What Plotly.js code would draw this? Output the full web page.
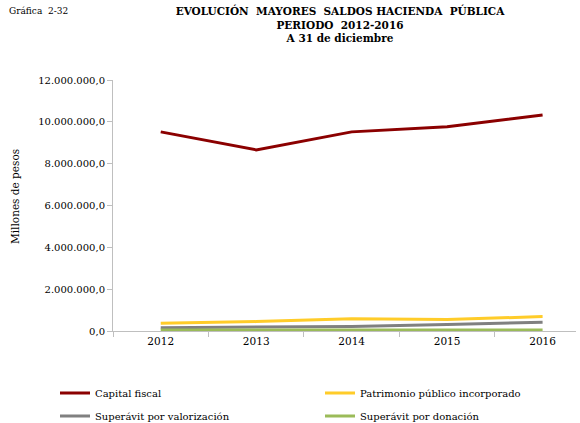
<!DOCTYPE html>
<html><head><meta charset="utf-8">
<script src="https://cdn.plot.ly/plotly-3.0.1.min.js"></script>
<style>html,body{margin:0;padding:0;background:#fff}#chart{width:580px;height:423px}</style>
</head><body><div id="chart"></div>
<script>
const years = ['2012','2013','2014','2015','2016'];
const capitalFiscal = [9520000, 8660000, 9520000, 9760000, 10330000];
const patrimonioIncorporado = [370000, 450000, 590000, 550000, 690000];
const superavitValorizacion = [160000, 190000, 220000, 310000, 420000];
const superavitDonacion = [50000, 50000, 50000, 50000, 50000];
const seriesNames = ['Capital fiscal','Patrimonio público incorporado','Superávit por valorización','Superávit por donación'];
const colors = ['#8b0000','#ffcc29','#808080','#9bbb59'];
const legendIds = ['legend','legend2','legend3','legend4'];
const vals = [capitalFiscal, patrimonioIncorporado, superavitValorizacion, superavitDonacion];
const font = "DejaVu Serif";
const traces = vals.map((v,i)=>({x:years,y:v,type:'scatter',mode:'lines',name:seriesNames[i],legend:legendIds[i],line:{color:colors[i],width:3}}));
const legBase = {orientation:'v',xref:'container',yref:'container',xanchor:'left',yanchor:'middle',font:{family:font,size:10,color:'#000'},itemwidth:30,bgcolor:'rgba(0,0,0,0)'};
const legPos = [[55,393],[320,393],[55,416],[320,416]];
const layout = {
  width:580,height:423,
  margin:{l:113,r:4,t:80,b:92,autoexpand:false},
  paper_bgcolor:'#fff',plot_bgcolor:'#fff',
  separators:',.',
  font:{family:font,size:10,color:'#000'},
  title:{text:'<b>EVOLUCIÓN  MAYORES  SALDOS HACIENDA  PÚBLICA<br>PERIODO  2012-2016<br>A 31 de diciembre</b>',x:340/580,xanchor:'center',y:1-15/423,yanchor:'top',font:{family:font,size:10.5,color:'#000'}},
  xaxis:{type:'category',range:[-0.5,4.35],showgrid:false,showline:true,linecolor:'#bfbfbf',linewidth:1,ticks:'outside',tickson:'boundaries',ticklen:5,tickcolor:'#bfbfbf',tickfont:{family:font,size:10.5},zeroline:false},
  yaxis:{range:[0,12000000],dtick:2000000,tickformat:',.1f',showgrid:false,showline:true,linecolor:'#bfbfbf',linewidth:1,ticks:'outside',ticklen:5,tickcolor:'#bfbfbf',tickfont:{family:font,size:10},zeroline:false},
  showlegend:true,
  annotations:[
    {text:'Gráfica  2-32',xref:'paper',yref:'paper',x:-106/463,xanchor:'left',y:1+69/251,yanchor:'middle',showarrow:false,font:{family:font,size:9}},
    {text:'Millones de pesos',xref:'paper',yref:'paper',x:-98/463,xanchor:'center',y:(331-197)/251,yanchor:'middle',textangle:-90,showarrow:false,font:{family:font,size:10.5}}
  ]
};
legendIds.forEach((id,i)=>{layout[id]=Object.assign({},legBase,{x:legPos[i][0]/580,y:1-legPos[i][1]/423});});
Plotly.newPlot('chart',traces,layout,{displayModeBar:false});
</script></body></html>
